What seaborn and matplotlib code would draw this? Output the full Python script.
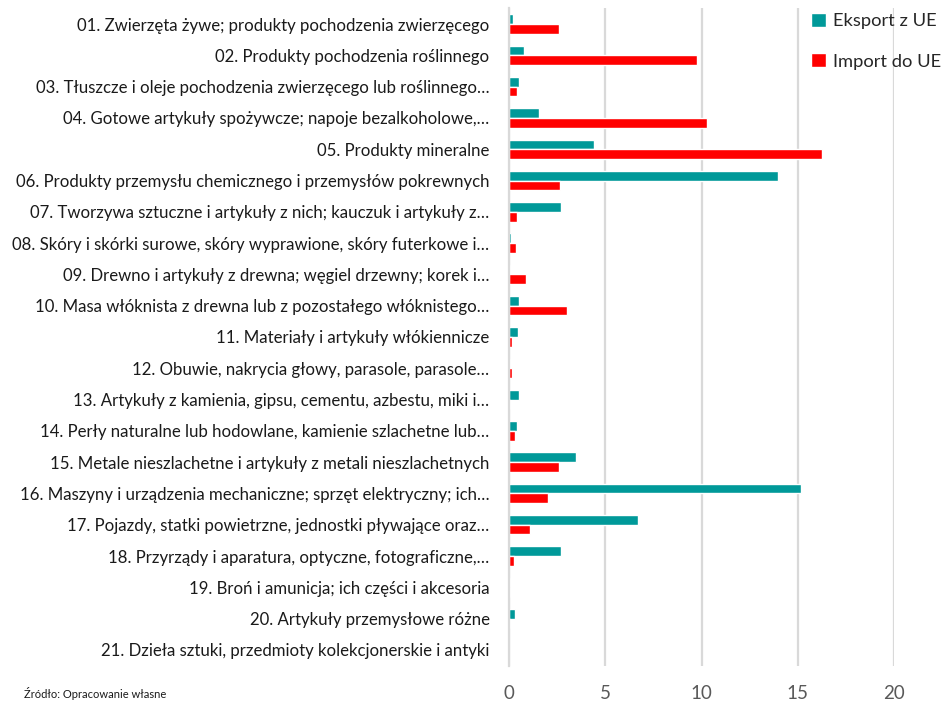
import matplotlib
matplotlib.use("Agg")
import matplotlib.pyplot as plt
import seaborn as sns
import pandas as pd

categories = [
    "01. Zwierzęta żywe; produkty pochodzenia zwierzęcego",
    "02. Produkty pochodzenia roślinnego",
    "03. Tłuszcze i oleje pochodzenia zwierzęcego lub roślinnego…",
    "04. Gotowe artykuły spożywcze; napoje bezalkoholowe,…",
    "05. Produkty mineralne",
    "06. Produkty przemysłu chemicznego i przemysłów pokrewnych",
    "07. Tworzywa sztuczne i artykuły z nich; kauczuk i artykuły z…",
    "08. Skóry i skórki surowe, skóry wyprawione, skóry futerkowe i…",
    "09. Drewno i artykuły z drewna; węgiel drzewny; korek i…",
    "10. Masa włóknista z drewna lub z pozostałego włóknistego…",
    "11. Materiały i artykuły włókiennicze",
    "12. Obuwie, nakrycia głowy, parasole, parasole…",
    "13. Artykuły z kamienia, gipsu, cementu, azbestu, miki i…",
    "14. Perły naturalne lub hodowlane, kamienie szlachetne lub…",
    "15. Metale nieszlachetne i artykuły z metali nieszlachetnych",
    "16. Maszyny i urządzenia mechaniczne; sprzęt elektryczny; ich…",
    "17. Pojazdy, statki powietrzne, jednostki pływające oraz…",
    "18. Przyrządy i aparatura, optyczne, fotograficzne,…",
    "19. Broń i amunicja; ich części i akcesoria",
    "20. Artykuły przemysłowe różne",
    "21. Dzieła sztuki, przedmioty kolekcjonerskie i antyki",
]
eksport = [0.2, 0.8, 0.5, 1.55, 4.4, 13.97, 2.72, 0.08, 0.04, 0.52, 0.45,
           0.03, 0.54, 0.4, 3.48, 15.18, 6.71, 2.72, 0.03, 0.33, 0.0]
import_ = [2.6, 9.75, 0.4, 10.3, 16.25, 2.64, 0.4, 0.35, 0.9, 3.03, 0.15,
           0.17, 0.07, 0.31, 2.58, 2.01, 1.07, 0.28, 0.03, 0.04, 0.0]
series = ["Eksport z UE", "Import do UE"]
xticks = [0, 5, 10, 15, 20]

df = pd.DataFrame({
    "kategoria": categories * 2,
    "wartosc": eksport + import_,
    "seria": [series[0]] * len(categories) + [series[1]] * len(categories),
})

sns.set_theme(style="white")
plt.rcParams["font.family"] = ["Lato", "DejaVu Sans"]

fig = plt.figure(figsize=(9.44, 7.01), dpi=100)
ax = fig.add_axes([509 / 944, 1 - 665.6 / 701, (894 - 509) / 944, (665.6 - 8.4) / 701])

sns.barplot(data=df, y="kategoria", x="wartosc", hue="seria", orient="h",
            palette=["#009999", "#FF0000"], width=0.62, ax=ax, saturation=1,
            order=categories, hue_order=series)

ax.set_xlim(0, 20)
ax.set_ylim(len(categories) - 0.5, -0.5)
ax.set_xticks(xticks)
ax.set_xticklabels([str(t) for t in xticks], fontsize=13.5, color="#595959")
ax.tick_params(axis="x", length=0, pad=14)
ax.tick_params(axis="y", length=0, pad=14, labelsize=12.1, labelcolor="#1a1a1a")
ax.xaxis.grid(True, color="#d9d9d9", linewidth=1.6)
ax.set_axisbelow(True)
for s in ["top", "right", "bottom"]:
    ax.spines[s].set_visible(False)
ax.spines["left"].set_color("#d9d9d9")
ax.spines["left"].set_linewidth(1.6)
ax.set_xlabel("")
ax.set_ylabel("")

leg = ax.legend(loc="upper left", bbox_to_anchor=(811 / 944, 1 - 13 / 701),
                bbox_transform=fig.transFigure, frameon=False, fontsize=13.2,
                handlelength=0.8, handleheight=0.8, handletextpad=0.4,
                labelspacing=1.3, borderaxespad=0, borderpad=0)

fig.text(0.025, 1 - 687 / 701, "Źródło: Opracowanie własne", fontsize=8,
         va="top", ha="left", color="#1a1a1a")

fig.savefig("out.png", dpi=100)
